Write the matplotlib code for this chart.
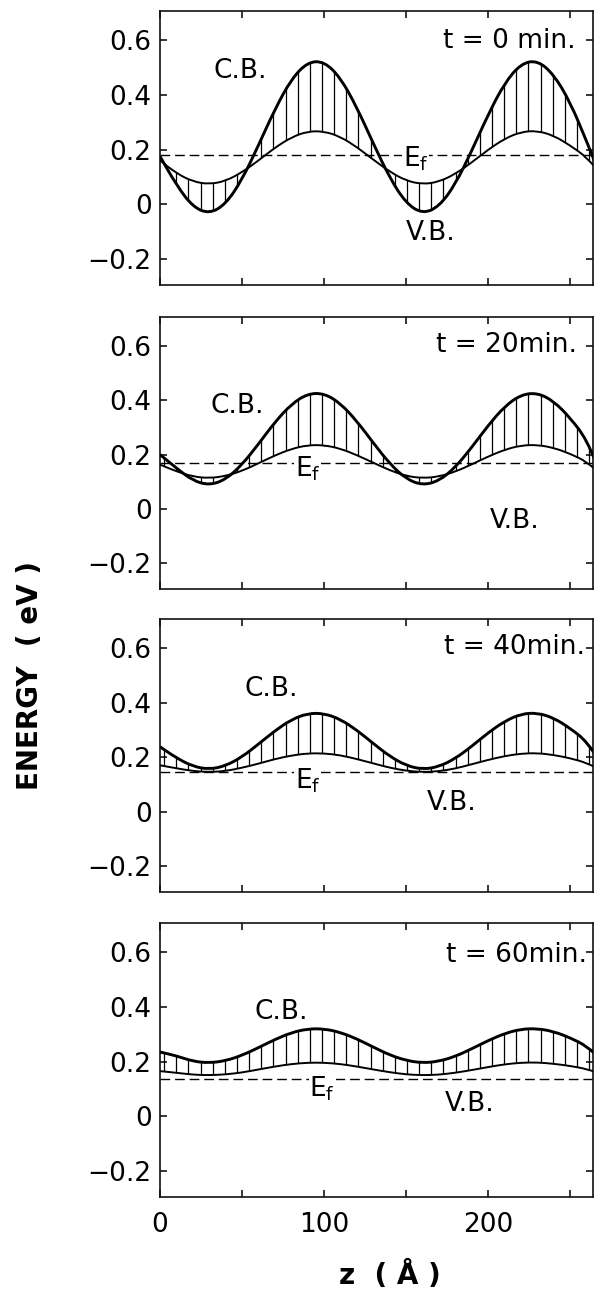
import numpy as np
import matplotlib
matplotlib.use("Agg")
import matplotlib.pyplot as plt
from matplotlib.path import Path
from matplotlib.patches import PathPatch

plt.rcParams["font.family"] = ["DejaVu Sans"]
plt.rcParams["mathtext.fontset"] = "dejavusans"

# position along z (Angstrom), band edges sampled every 10 A
Z = [0, 10, 20, 30, 40, 50, 60, 70, 80, 90, 100, 110, 120, 130,
     140, 150, 160, 170, 180, 190, 200, 210, 220, 230, 240, 250, 260, 270]

# t = 0 min
CB_T0 = [0.175, 0.070, -0.010, -0.035, 0.000, 0.090, 0.216, 0.348, 0.458, 0.521,
         0.523, 0.463, 0.354, 0.222, 0.096, 0.003, -0.035, -0.009, 0.073, 0.196,
         0.329, 0.444, 0.515, 0.527, 0.475, 0.373, 0.230, 0.080]
VB_T0 = [0.160, 0.113, 0.083, 0.073, 0.085, 0.117, 0.160, 0.207, 0.245, 0.267,
         0.267, 0.247, 0.209, 0.163, 0.119, 0.086, 0.073, 0.082, 0.111, 0.153,
         0.200, 0.240, 0.265, 0.269, 0.251, 0.215, 0.172, 0.100]

# t = 20 min
CB_T20 = [0.200, 0.150, 0.104, 0.087, 0.108, 0.163, 0.239, 0.320, 0.386, 0.425,
          0.426, 0.389, 0.323, 0.243, 0.166, 0.110, 0.087, 0.103, 0.153, 0.227,
          0.308, 0.378, 0.421, 0.428, 0.397, 0.335, 0.256, 0.104]
VB_T20 = [0.163, 0.138, 0.119, 0.113, 0.121, 0.140, 0.168, 0.197, 0.221, 0.235,
          0.235, 0.222, 0.198, 0.170, 0.142, 0.121, 0.113, 0.119, 0.137, 0.164,
          0.193, 0.218, 0.234, 0.236, 0.225, 0.203, 0.174, 0.119]

# t = 40 min
CB_T40 = [0.238, 0.197, 0.166, 0.155, 0.168, 0.201, 0.248, 0.297, 0.338, 0.361,
          0.361, 0.339, 0.299, 0.250, 0.203, 0.169, 0.155, 0.165, 0.195, 0.240,
          0.290, 0.332, 0.359, 0.363, 0.344, 0.306, 0.258, 0.165]
VB_T40 = [0.170, 0.159, 0.149, 0.145, 0.149, 0.161, 0.176, 0.193, 0.206, 0.214,
          0.214, 0.207, 0.193, 0.177, 0.161, 0.150, 0.145, 0.148, 0.158, 0.174,
          0.190, 0.204, 0.213, 0.215, 0.208, 0.196, 0.179, 0.148]

# t = 60 min
CB_T60 = [0.235, 0.221, 0.201, 0.195, 0.203, 0.223, 0.251, 0.281, 0.306, 0.320,
          0.320, 0.307, 0.283, 0.253, 0.224, 0.204, 0.195, 0.201, 0.219, 0.247,
          0.277, 0.303, 0.319, 0.321, 0.310, 0.287, 0.257, 0.201]
VB_T60 = [0.165, 0.159, 0.152, 0.150, 0.153, 0.160, 0.171, 0.182, 0.191, 0.196,
          0.196, 0.191, 0.182, 0.171, 0.161, 0.153, 0.150, 0.152, 0.159, 0.169,
          0.180, 0.190, 0.196, 0.197, 0.192, 0.184, 0.173, 0.152]

CB = [CB_T0, CB_T20, CB_T40, CB_T60]
VB = [VB_T0, VB_T20, VB_T40, VB_T60]
EF = [0.180, 0.170, 0.147, 0.136]
TIMES = ["t = 0 min.", "t = 20min.", "t = 40min.", "t = 60min."]

YTICKS = [-0.2, 0, 0.2, 0.4, 0.6]
YTICK_LABELS = ["\u22120.2", "0", "0.2", "0.4", "0.6"]
XTICKS = [0, 50, 100, 150, 200, 250]
XTICK_LABELS = ["0", "", "100", "", "200", ""]

# label placement per panel (data coords)
CB_POS = [(49, 0.488), (47, 0.379), (68, 0.449), (74, 0.382)]
VB_POS = [(165, -0.106), (216, -0.044), (178, 0.033), (189, 0.044)]
EF_POS = [(148, 0.165), (82, 0.148), (82, 0.112), (91, 0.101)]
T_POS = [(253, 0.598), (254, 0.603), (259, 0.607), (260, 0.592)]

# panel rectangles in figure fraction: left, bottom, width, height
PANELS = [
    (0.269, 0.7818, 0.728, 0.2098),
    (0.269, 0.5490, 0.728, 0.2083),
    (0.269, 0.3170, 0.728, 0.2090),
    (0.269, 0.0835, 0.728, 0.2098),
]


def smooth_path(xs, ys):
    # quadratic Bezier through the segment midpoints, data points as controls
    xs = np.asarray(xs, float)
    ys = np.asarray(ys, float)
    mx = (xs[:-1] + xs[1:]) / 2
    my = (ys[:-1] + ys[1:]) / 2
    verts = [(xs[0], ys[0]), (mx[0], my[0])]
    codes = [Path.MOVETO, Path.LINETO]
    for k in range(1, len(xs) - 1):
        verts += [(xs[k], ys[k]), (mx[k], my[k])]
        codes += [Path.CURVE3, Path.CURVE3]
    verts.append((xs[-1], ys[-1]))
    codes.append(Path.LINETO)
    return verts, codes


fig = plt.figure(figsize=(5.95, 13.06), dpi=100)
fig.patch.set_facecolor("white")

hatch_z = np.arange(2.5, 270, 7.4)

for i, rect in enumerate(PANELS):
    ax = fig.add_axes(rect)
    z = np.array(Z, float)
    cb = np.array(CB[i])
    vb = np.array(VB[i])

    cb_verts, cb_codes = smooth_path(z, cb)
    vb_verts, vb_codes = smooth_path(z[::-1], vb[::-1])

    # region enclosed between the two edges, used to clip the hatching
    band = Path(cb_verts + vb_verts + [cb_verts[0]],
                cb_codes + [Path.LINETO] + vb_codes[1:] + [Path.CLOSEPOLY])
    hatch = ax.vlines(hatch_z, -0.3, 0.7, color="black", lw=0.9, zorder=2)
    hatch.set_clip_path(band, ax.transData)

    ax.add_patch(PathPatch(Path(cb_verts, cb_codes), fill=False,
                           ec="black", lw=2.1, zorder=3))
    ax.add_patch(PathPatch(Path(vb_verts, vb_codes), fill=False,
                           ec="black", lw=1.4, zorder=3))

    ax.axhline(EF[i], color="black", lw=1.0, linestyle=(0, (7, 3.5)), zorder=1)

    ax.set_xlim(0, 264)
    ax.set_ylim(-0.296, 0.708)

    ax.set_yticks(YTICKS)
    ax.set_yticklabels(YTICK_LABELS)
    ax.set_xticks(XTICKS)
    if i == len(PANELS) - 1:
        ax.set_xticklabels(XTICK_LABELS)
    else:
        ax.set_xticklabels([])

    ax.tick_params(axis="both", direction="in", length=5, width=1.1,
                   top=True, right=True, labelsize=19, colors="black")
    ax.tick_params(axis="y", pad=6)
    ax.tick_params(axis="x", pad=11)

    for spine in ax.spines.values():
        spine.set_linewidth(1.2)
        spine.set_color("#111111")

    txt = dict(fontsize=19, color="black")
    ax.text(*CB_POS[i], "C.B.", ha="center", va="center", **txt)
    ax.text(*VB_POS[i], "V.B.", ha="center", va="center", **txt)
    ax.text(*T_POS[i], TIMES[i], ha="right", va="center", **txt)
    ax.text(*EF_POS[i], r"E$_{\mathregular{f}}$", ha="left", va="center",
            zorder=4, bbox=dict(facecolor="white", edgecolor="none", pad=0.5),
            **txt)

fig.text(0.05, 0.483, "ENERGY  ( eV )", rotation=90, ha="center", va="center",
         fontsize=20, fontweight="bold")
fig.text(0.655, 0.012, "z  ( \u00c5 )", ha="center", va="bottom",
         fontsize=20, fontweight="bold")

fig.savefig("out.png", dpi=100, facecolor="white")
plt.close(fig)
